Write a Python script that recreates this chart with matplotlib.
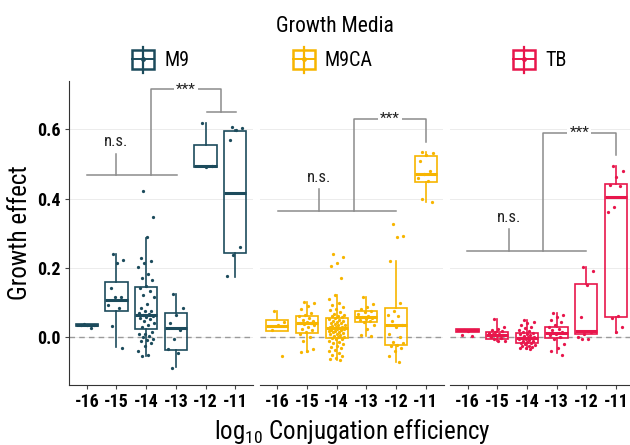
"""
Growth effect vs log10 conjugation efficiency, boxplots + jittered points per medium
"""
import matplotlib
matplotlib.use("Agg")
import matplotlib.pyplot as plt
from matplotlib.patches import Rectangle
from matplotlib import font_manager

# pick a narrow face if one is installed
names = {f.name for f in font_manager.fontManager.ttflist}
narrow = [n for n in ["DejaVu Sans Condensed", "Roboto Condensed", "Liberation Sans Narrow",
                      "Open Sans Condensed", "Roboto"] if n in names]
plt.rcParams["font.family"] = narrow[:1] + ["DejaVu Sans"]
plt.rcParams["mathtext.fontset"] = "custom"
plt.rcParams["mathtext.rm"] = narrow[0] if narrow else "DejaVu Sans"

MEDIA = ["M9", "M9CA", "TB"]
COLORS = {"M9": "#1c4b5c", "M9CA": "#f7b500", "TB": "#e8164c"}
EFFICIENCY = ["-16", "-15", "-14", "-13", "-12", "-11"]

# box stats: (whisker low, q1, median, q3, whisker high)
BOX_M9 = [
    (0.032, 0.032, 0.035, 0.038, 0.038),
    (-0.029, 0.077, 0.108, 0.159, 0.240),
    (-0.054, 0.023, 0.064, 0.146, 0.286),
    (-0.085, -0.037, 0.026, 0.071, 0.125),
    (0.492, 0.492, 0.493, 0.555, 0.617),
    (0.175, 0.244, 0.415, 0.596, 0.598),
]
BOX_M9CA = [
    (0.018, 0.018, 0.033, 0.050, 0.076),
    (-0.044, 0.013, 0.040, 0.060, 0.103),
    (-0.067, -0.001, 0.026, 0.055, 0.122),
    (0.004, 0.043, 0.058, 0.076, 0.117),
    (-0.072, -0.022, 0.035, 0.085, 0.220),
    (0.391, 0.449, 0.471, 0.524, 0.535),
]
BOX_TB = [
    (0.014, 0.014, 0.020, 0.024, 0.024),
    (-0.010, -0.005, 0.007, 0.016, 0.052),
    (-0.035, -0.017, -0.001, 0.013, 0.050),
    (-0.046, -0.001, 0.012, 0.029, 0.069),
    (0.009, 0.009, 0.019, 0.154, 0.204),
    (0.012, 0.057, 0.406, 0.441, 0.495),
]

# individual replicate points
PTS_M9 = [
    [0.038, 0.036, 0.035, 0.034, 0.027],
    [0.240, 0.223, 0.213, 0.141, 0.117, 0.115, 0.093, 0.085, 0.031, -0.032],
    [0.422, 0.346, 0.289, 0.228, 0.220, 0.213, 0.202, 0.182, 0.170, 0.165,
     0.148, 0.142, 0.132, 0.122, 0.115, 0.096, 0.085, 0.077, 0.075, 0.070,
     0.066, 0.064, 0.060, 0.058, 0.055, 0.052, 0.048, 0.042, 0.035, 0.030,
     0.016, 0.010, 0.008, 0.004, 0.000, -0.006, -0.008, -0.012, -0.017,
     -0.025, -0.039, -0.051, -0.054],
    [0.125, 0.085, 0.065, 0.042, 0.020, -0.005, -0.035, -0.045, -0.090],
    [0.617, 0.495, 0.490],
    [0.606, 0.604, 0.598, 0.569, 0.261, 0.237, 0.178],
]
PTS_M9CA = [
    [0.077, 0.045, 0.035, 0.020, -0.054],
    [0.103, 0.098, 0.090, 0.080, 0.070, 0.065, 0.060, 0.055, 0.050, 0.047,
     0.045, 0.042, 0.040, 0.038, 0.035, 0.030, 0.025, 0.020, 0.015, 0.010,
     0.000, -0.010, -0.035, -0.040, -0.044],
    [0.239, 0.232, 0.215, 0.205, 0.172, 0.122, 0.110, 0.100, 0.092, 0.088,
     0.082, 0.078, 0.072, 0.068, 0.065, 0.062, 0.060, 0.058, 0.055, 0.053,
     0.050, 0.048, 0.046, 0.044, 0.042, 0.040, 0.038, 0.036, 0.034, 0.032,
     0.030, 0.029, 0.028, 0.027, 0.026, 0.025, 0.024, 0.022, 0.020, 0.019,
     0.018, 0.016, 0.014, 0.012, 0.010, 0.008, 0.006, 0.004, 0.002, 0.000,
     -0.002, -0.004, -0.006, -0.010, -0.013, -0.016, -0.020, -0.024, -0.028,
     -0.032, -0.036, -0.040, -0.045, -0.050, -0.055, -0.060, -0.063, -0.067],
    [0.117, 0.095, 0.088, 0.080, 0.076, 0.072, 0.068, 0.062, 0.058, 0.056,
     0.053, 0.050, 0.046, 0.043, 0.035, 0.025, 0.005, 0.004],
    [0.326, 0.292, 0.290, 0.220, 0.100, 0.075, 0.065, 0.060, 0.048, 0.035,
     0.030, 0.010, 0.000, -0.015, -0.018, -0.022, -0.025, -0.030, -0.040,
     -0.055, -0.072],
    [0.535, 0.532, 0.526, 0.510, 0.480, 0.470, 0.460, 0.452, 0.400, 0.391],
]
PTS_TB = [
    [0.022, 0.020, 0.018, 0.005, 0.004],
    [0.052, 0.030, 0.025, 0.020, 0.018, 0.015, 0.012, 0.010, 0.008, 0.005,
     0.003, 0.000, -0.003, -0.006, -0.010, -0.012],
    [0.050, 0.045, 0.040, 0.035, 0.030, 0.026, 0.022, 0.018, 0.015, 0.012,
     0.010, 0.008, 0.006, 0.004, 0.002, 0.000, -0.001, -0.002, -0.004, -0.006,
     -0.008, -0.010, -0.012, -0.014, -0.016, -0.018, -0.020, -0.022, -0.024,
     -0.026, -0.028, -0.030, -0.032, -0.035],
    [0.070, 0.065, 0.058, 0.050, 0.045, 0.035, 0.030, 0.025, 0.020, 0.015,
     0.010, 0.005, 0.000, -0.005, -0.020, -0.030, -0.040, -0.050],
    [0.204, 0.190, 0.152, 0.058, 0.015, 0.010, 0.000, -0.005, -0.006],
    [0.495, 0.480, 0.462, 0.440, 0.437, 0.377, 0.362, 0.060, 0.055, 0.030, 0.015],
]

BOXES = {"M9": BOX_M9, "M9CA": BOX_M9CA, "TB": BOX_TB}
POINTS = {"M9": PTS_M9, "M9CA": PTS_M9CA, "TB": PTS_TB}

# significance brackets: n.s. bar (y, x0, x1, tick x, tick top), *** bar (x left, top, x right, right end)
NS_BAR = {"M9": (0.468, 0.02, 3.03, 0.97, 0.53),
          "M9CA": (0.364, 0.02, 3.99, 1.42, 0.427),
          "TB": (0.250, -0.02, 4.00, 1.40, 0.312)}
SIG_BAR = {"M9": (2.15, 0.715, 4.51, 0.651),
           "M9CA": (2.57, 0.630, 5.01, 0.563),
           "TB": (2.54, 0.589, 5.00, 0.526)}
M9_LOW_BAR = (4.05, 5.02)

BRACKET = "#8c8c8c"

fig = plt.figure(figsize=(6.3, 4.45), dpi=100)
lefts = [69 / 630, 259.5 / 630, 449.7 / 630]
axes = []
for k, medium in enumerate(MEDIA):
    ax = fig.add_axes([lefts[k], 0.1348, 184 / 630, 0.6836])
    axes.append(ax)
    col = COLORS[medium]

    ax.yaxis.grid(True, color="#ececec", linewidth=0.7)
    ax.set_axisbelow(True)
    ax.axhline(0, color="#9a9a9a", linestyle=(0, (4, 3)), linewidth=1.0, zorder=1)

    stats = []
    for lab, (lo, q1, med, q3, hi) in zip(EFFICIENCY, BOXES[medium]):
        stats.append(dict(label=lab, whislo=lo, q1=q1, med=med, q3=q3, whishi=hi, fliers=[]))
    ax.bxp(stats, positions=range(len(EFFICIENCY)), widths=0.75, showfliers=False,
           showcaps=False, patch_artist=True,
           boxprops=dict(facecolor="none", edgecolor=col, linewidth=1.2),
           whiskerprops=dict(color=col, linewidth=1.2),
           medianprops=dict(color=col, linewidth=2.2), zorder=3)

    # jittered points (fixed low-discrepancy offsets)
    for g, vals in enumerate(POINTS[medium]):
        xs = [g + ((i * 0.618034 + 0.3) % 1 - 0.5) * 0.55 for i in range(len(vals))]
        ax.scatter(xs, vals, s=5.5, color=col, linewidths=0, zorder=4)

    # brackets
    y, x0, x1, tx, ttop = NS_BAR[medium]
    ax.plot([x0, x1], [y, y], color=BRACKET, lw=1.1, zorder=2)
    ax.plot([tx, tx], [y, ttop], color=BRACKET, lw=1.1, zorder=2)
    ax.text(tx, ttop + 0.012, "n.s.", ha="center", va="bottom", fontsize=12, color="#222222")
    sx0, stop, sx1, send = SIG_BAR[medium]
    ax.plot([sx0, sx0, sx1, sx1], [y, stop, stop, send], color=BRACKET, lw=1.1, zorder=2)
    ax.text((sx0 + sx1) / 2, stop, "***", ha="center", va="center", fontsize=11,
            color="#222222", bbox=dict(facecolor="white", edgecolor="none", pad=1.5), zorder=3)
    if medium == "M9":
        ax.plot(list(M9_LOW_BAR), [send, send], color=BRACKET, lw=1.1, zorder=2)

    ax.set_xlim(-0.6, 5.6)
    ax.set_ylim(-0.138, 0.74)
    ax.set_xticks(range(len(EFFICIENCY)))
    ax.set_xticklabels(EFFICIENCY, fontsize=13, fontweight="bold")
    ax.set_yticks([0.0, 0.2, 0.4, 0.6])
    ax.set_yticklabels(["0.0", "0.2", "0.4", "0.6"], fontsize=13, fontweight="bold")
    ax.tick_params(axis="both", length=3, width=0.8, color="#444444", pad=3)
    for s in ["top", "right"]:
        ax.spines[s].set_visible(False)
    ax.spines["bottom"].set_color("#333333")
    ax.spines["left"].set_color("#333333")
    if k > 0:
        ax.spines["left"].set_visible(False)
        ax.tick_params(axis="y", left=False, labelleft=False)

axes[0].set_ylabel("Growth effect", fontsize=18, labelpad=4)
fig.text(352 / 630, 0.03, r"log$_{10}$ Conjugation efficiency", ha="center", va="center", fontsize=18)

# legend drawn on a pixel-space overlay
lg = fig.add_axes([0, 0, 1, 1], facecolor="none")
lg.set_xlim(0, 630)
lg.set_ylim(445, 0)
lg.axis("off")
lg.text(335, 26, "Growth Media", ha="center", va="center", fontsize=15.5)
for medium, x in zip(MEDIA, [132, 293, 513]):
    col = COLORS[medium]
    lg.plot([x + 11, x + 11], [46.5, 72.5], color=col, lw=1.6)
    lg.add_patch(Rectangle((x, 50), 22, 18.5, facecolor="white", edgecolor=col, lw=1.8))
    lg.plot([x, x + 22], [59.3, 59.3], color=col, lw=1.4)
    lg.plot([x + 11], [59.3], marker="o", ms=2.5, color=col)
    lg.text(x + 32, 60, medium, ha="left", va="center", fontsize=14.5)

fig.savefig("out.png", dpi=100)
